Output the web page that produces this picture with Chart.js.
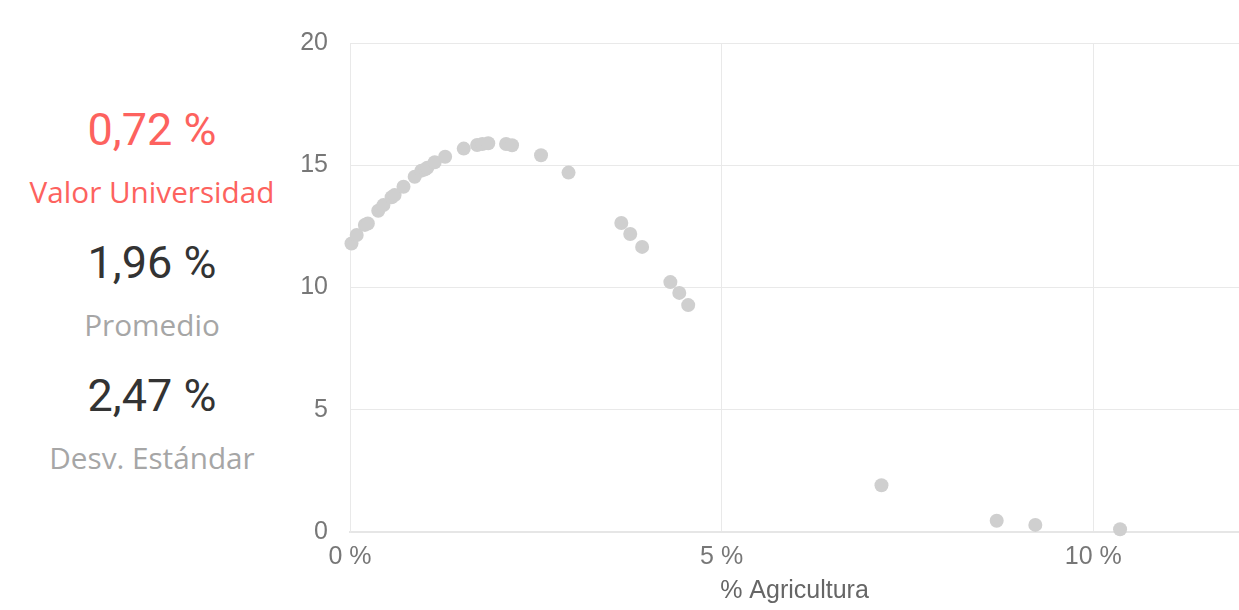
<!DOCTYPE html>
<html>
<head>
<meta charset="utf-8">
<script src="https://cdn.jsdelivr.net/npm/chart.js@4"></script>
<style>
  body { margin: 0; background: #fff; width: 1239px; height: 610px; overflow: hidden; position: relative; }
  .kpi { position: absolute; left: 0; width: 304px; text-align: center; white-space: nowrap; }
  .big { font-family: Roboto, "Liberation Sans", sans-serif; font-size: 45px; line-height: 50px; }
  .lbl { font-family: "Open Sans", "Noto Sans", sans-serif; font-size: 29.7px; line-height: 36px; color: #a6a6a6; }
  #chartbox { position: absolute; left: 280px; top: 0; }
</style>
</head>
<body>
<div class="kpi big" style="top:105px; color:#fd625e;">0,72 %</div>
<div class="kpi lbl" style="top:174px; color:#fd625e;">Valor Universidad</div>
<div class="kpi big" style="top:238px; color:#333;">1,96 %</div>
<div class="kpi lbl" style="top:307px;">Promedio</div>
<div class="kpi big" style="top:371px; color:#333;">2,47 %</div>
<div class="kpi lbl" style="top:440px;">Desv. Estándar</div>

<div id="chartbox"><canvas id="scatter" width="966" height="610"></canvas></div>

<script>
// % Agricultura (x) and the y value of each point
const agricultura = [0.02, 0.09, 0.2, 0.24, 0.38, 0.45, 0.56, 0.6, 0.72, 0.87, 0.96, 1.01, 1.04, 1.14, 1.28,
  1.53, 1.71, 1.78, 1.86, 2.1, 2.18, 2.57, 2.94, 3.65, 3.77, 3.93, 4.31, 4.43, 4.55, 7.15, 8.7, 9.22, 10.36];
const valores = [11.8, 12.15, 12.56, 12.62, 13.14, 13.37, 13.69, 13.78, 14.12, 14.53, 14.78, 14.83, 14.9, 15.12, 15.35,
  15.68, 15.83, 15.87, 15.9, 15.87, 15.82, 15.41, 14.7, 12.64, 12.19, 11.66, 10.22, 9.78, 9.28, 1.91, 0.46, 0.29, 0.11];
const xTicks = [0, 5, 10];
const yTicks = [0, 5, 10, 15, 20];

const points = agricultura.map((x, i) => ({ x: x, y: valores[i] }));
const gridColor = "#e9e9e9";
const axisFont = { family: "'Liberation Sans', Arial, sans-serif", size: 25 };

const sctx = document.getElementById("scatter");

new Chart(sctx, {
  type: "scatter",
  data: {
    datasets: [
      {
        label: "Universidades",
        data: points,
        pointRadius: 7,
        pointHoverRadius: 7,
        borderWidth: 0,
        backgroundColor: "#cfcfcf",
        clip: false,
      },
    ],
  },
  options: {
    responsive: false,
    animation: false,
    layout: { padding: { top: 43, right: 0, left: 0, bottom: 0 } },
    plugins: {
      legend: { display: false },
      tooltip: { enabled: false },
    },
    scales: {
      x: {
        type: "linear",
        min: 0,
        max: 11.96,
        afterFit: (scale) => { scale.height = 78; },
        afterBuildTicks: (scale) => { scale.ticks = xTicks.map((v) => ({ value: v })); },
        grid: { color: gridColor, drawTicks: false },
        border: { color: "#e6e6e6", width: 2 },
        ticks: {
          padding: 10,
          color: "#777",
          font: axisFont,
          callback: (value) => value + " %",
        },
        title: {
          display: true,
          text: "% Agricultura",
          color: "#666",
          font: axisFont,
          padding: { top: 0, bottom: 4 },
        },
      },
      y: {
        min: 0,
        max: 20,
        afterFit: (scale) => { scale.width = 70; },
        afterBuildTicks: (scale) => { scale.ticks = yTicks.map((v) => ({ value: v })); },
        grid: { color: gridColor, drawTicks: false },
        border: { color: gridColor, width: 1 },
        ticks: {
          padding: 22,
          color: "#777",
          font: axisFont,
        },
      },
    },
  },
});
</script>
</body>
</html>
